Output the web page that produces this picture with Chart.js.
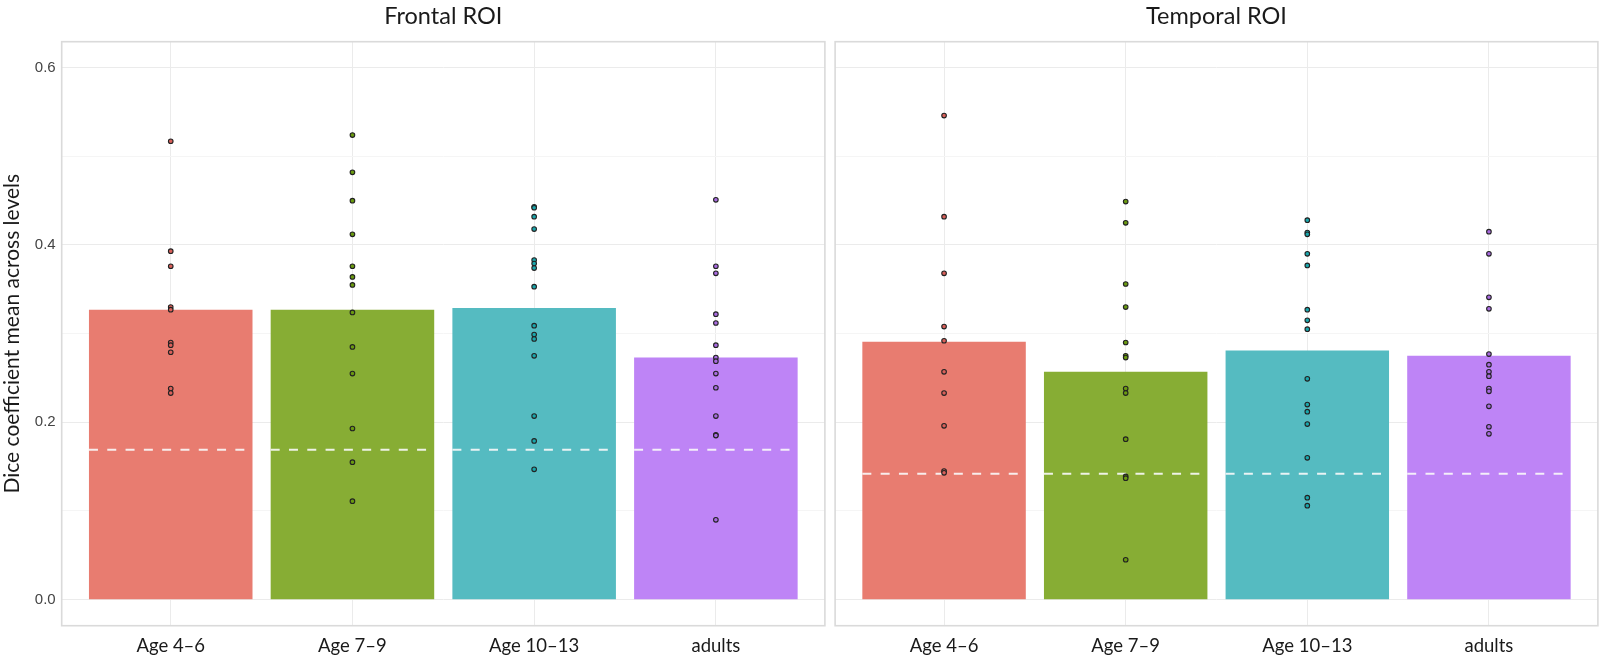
<!DOCTYPE html>
<html>
<head>
<meta charset="utf-8">
<script src="https://cdn.jsdelivr.net/npm/chart.js@4/dist/chart.umd.min.js"></script>
<style>
html,body{margin:0;padding:0;background:#fff;}
#wrap{position:relative;width:1603px;height:663px;overflow:hidden;}
.p{position:absolute;top:0;height:663px;}
#p1{left:0;width:830px;}
#p2{left:830px;width:773px;}
</style>
</head>
<body>
<div id="wrap">
  <div class="p" id="p1"><canvas id="c1"></canvas></div>
  <div class="p" id="p2"><canvas id="c2"></canvas></div>
</div>
<script>
// ---- data ----
const groups = ['Age 4–6', 'Age 7–9', 'Age 10–13', 'adults'];
const groupIndex = [1, 2, 3, 4];
const panelTitles = ['Frontal ROI', 'Temporal ROI'];
const yAxisTitle = 'Dice coefficient mean across levels';

const frontalMeans  = [0.327, 0.327, 0.329, 0.273];
const temporalMeans = [0.291, 0.257, 0.281, 0.275];
const frontalChance  = 0.169;
const temporalChance = 0.142;

const frontalAge4to6   = [0.517, 0.393, 0.376, 0.330, 0.327, 0.290, 0.287, 0.279, 0.238, 0.233];
const frontalAge7to9   = [0.524, 0.482, 0.450, 0.412, 0.376, 0.364, 0.355, 0.324, 0.285, 0.255, 0.193, 0.155, 0.111];
const frontalAge10to13 = [0.443, 0.442, 0.432, 0.418, 0.383, 0.379, 0.374, 0.353, 0.309, 0.299, 0.294, 0.275, 0.207, 0.179, 0.147];
const frontalAdults    = [0.451, 0.376, 0.368, 0.322, 0.312, 0.287, 0.273, 0.269, 0.255, 0.239, 0.207, 0.186, 0.185, 0.090];

const temporalAge4to6   = [0.546, 0.432, 0.368, 0.308, 0.292, 0.257, 0.233, 0.196, 0.145, 0.143];
const temporalAge7to9   = [0.449, 0.425, 0.356, 0.330, 0.290, 0.275, 0.273, 0.238, 0.233, 0.181, 0.139, 0.137, 0.045];
const temporalAge10to13 = [0.428, 0.414, 0.412, 0.390, 0.377, 0.327, 0.315, 0.305, 0.249, 0.220, 0.212, 0.198, 0.160, 0.115, 0.106];
const temporalAdults    = [0.415, 0.390, 0.341, 0.328, 0.277, 0.265, 0.257, 0.252, 0.238, 0.235, 0.218, 0.195, 0.187];

const yTickValues = [0, 0.1, 0.2, 0.3, 0.4, 0.5, 0.6];
const yTickLabels = ['0.0', '', '0.2', '', '0.4', '', '0.6'];

// ---- styles ----
const barColors   = ['#E87C70', '#87AD34', '#55BBC1', '#BE84F6'];
const pointColors = ['#D9605A', '#6A9A10', '#1AA7AD', '#A96BE0'];

const panelBorder = {
  id: 'panelBorder',
  afterDraw(chart) {
    const { ctx, chartArea: a } = chart;
    ctx.save();
    ctx.strokeStyle = '#dadada';
    ctx.lineWidth = 1.6;
    ctx.strokeRect(a.left, a.top, a.right - a.left, a.bottom - a.top);
    ctx.restore();
  }
};

function makeChart(canvasId, title, means, pointSets, chance, isFirst) {
  const datasets = [];
  datasets.push({
    type: 'bar',
    data: means.map((m, i) => ({ x: groupIndex[i], y: m })),
    backgroundColor: barColors,
    borderWidth: 0,
    categoryPercentage: 0.9,
    barPercentage: 1.0,
    order: 3
  });
  const chanceData = [];
  groupIndex.forEach(g => {
    chanceData.push({ x: g - 0.45, y: chance });
    chanceData.push({ x: g + 0.45, y: chance });
    chanceData.push({ x: g + 0.5, y: null });
  });
  datasets.push({
    type: 'line',
    data: chanceData,
    borderColor: 'rgba(250,250,250,0.9)',
    borderWidth: 2,
    borderDash: [9, 9.3],
    pointRadius: 0,
    spanGaps: false,
    fill: false,
    order: 2
  });
  pointSets.forEach((arr, i) => {
    datasets.push({
      type: 'line',
      data: arr.map(v => ({ x: groupIndex[i], y: v })),
      showLine: false,
      pointRadius: 2.3,
      pointBorderWidth: 1.1,
      pointBackgroundColor: pointColors[i],
      pointBorderColor: '#222',
      order: 1
    });
  });

  return new Chart(document.getElementById(canvasId), {
    type: 'bar',
    data: { datasets },
    plugins: [panelBorder],
    options: {
      responsive: true,
      maintainAspectRatio: false,
      animation: false,
      layout: { padding: { left: 0, right: isFirst ? 3.7 : 4, top: 0, bottom: 0 } },
      plugins: {
        legend: { display: false },
        tooltip: { enabled: false },
        title: {
          display: true,
          text: title,
          fullSize: false,
          color: '#1a1a1a',
          font: { family: 'Lato', size: 23.5, weight: 'normal', lineHeight: 1.2 },
          padding: { top: 2.5, bottom: 11 }
        }
      },
      scales: {
        x: {
          type: 'linear',
          min: 0.4,
          max: 4.6,
          offset: false,
          afterBuildTicks: s => { s.ticks = groupIndex.map(v => ({ value: v })); },
          afterFit: s => { s.height = 37.3; },
          grid: { color: '#ebebeb', lineWidth: 1, drawTicks: false, offset: false },
          border: { display: false },
          ticks: {
            autoSkip: false,
            maxRotation: 0,
            padding: 9,
            color: '#1a1a1a',
            font: { family: 'Lato', size: 18.5 },
            callback: (v, i) => groups[i]
          }
        },
        y: {
          min: -0.0294,
          max: 0.6293,
          afterBuildTicks: s => { s.ticks = yTickValues.map(v => ({ value: v })); },
          afterFit: s => { s.width = isFirst ? 61.7 : 4.3; },
          grid: {
            lineWidth: 1,
            drawTicks: false,
            color: ctx => (ctx.tick && Math.round(ctx.tick.value * 10) % 2 === 0) ? '#ebebeb' : '#f5f5f5'
          },
          border: { display: false },
          ticks: {
            display: isFirst,
            padding: 6,
            color: '#444',
            font: { family: 'Liberation Sans, Arial, sans-serif', size: 15 },
            callback: (v, i) => yTickLabels[i]
          },
          title: {
            display: isFirst,
            text: yAxisTitle,
            color: '#1a1a1a',
            font: { family: 'Lato', size: 21 },
            padding: { top: 0, bottom: 0 }
          }
        }
      }
    }
  });
}

function draw() {
  makeChart('c1', panelTitles[0], frontalMeans,
    [frontalAge4to6, frontalAge7to9, frontalAge10to13, frontalAdults], frontalChance, true);
  makeChart('c2', panelTitles[1], temporalMeans,
    [temporalAge4to6, temporalAge7to9, temporalAge10to13, temporalAdults], temporalChance, false);
}

let drawn = false;
function go() { if (!drawn) { drawn = true; draw(); } }
if (document.fonts && document.fonts.load) {
  Promise.all([document.fonts.load('22px Lato'), document.fonts.load('15px "Liberation Sans"')]).then(go, go);
  setTimeout(go, 300);
} else { go(); }
</script>
</body>
</html>
